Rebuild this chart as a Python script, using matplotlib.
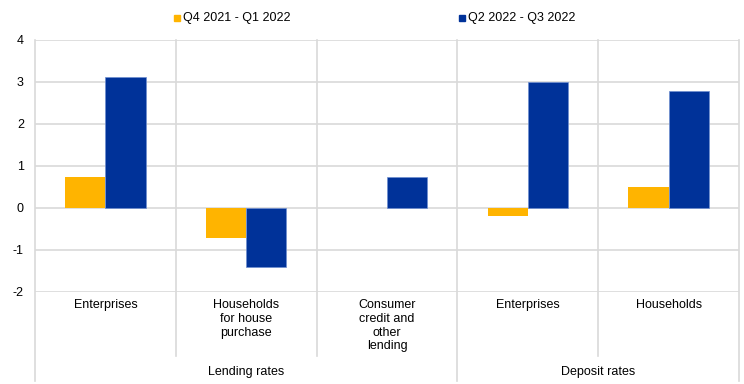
import matplotlib.pyplot as plt
import numpy as np

# Data
categories = ['Enterprises', 'Households\nfor house\npurchase', 'Consumer\ncredit and\nother\nlending',
              'Enterprises', 'Households']
groups = ['Lending rates', 'Deposit rates']
group_spans = [(0, 3), (3, 5)]
q4_q1 = [0.73, -0.71, 0.0, -0.20, 0.51]
q2_q3 = [3.13, -1.40, 0.74, 3.00, 2.78]
series_labels = ['Q4 2021 - Q1 2022', 'Q2 2022 - Q3 2022']
yticks = [-2, -1, 0, 1, 2, 3, 4]

orange = '#FFB400'
blue = '#003299'
grid_c = '#D9D9D9'
fs = 9
plt.rcParams['font.family'] = ['Liberation Sans', 'DejaVu Sans']

W, H = 744, 384
fig = plt.figure(figsize=(W / 100, H / 100), dpi=100)
x0, x1, ytop, ybot = 35, 739, 40, 292
ax = fig.add_axes([x0 / W, 1 - ybot / H, (x1 - x0) / W, (ybot - ytop) / H])

n = len(categories)
x = np.arange(n) + 0.5
bw = 0.285
ax.bar(x - bw / 2, q4_q1, bw, color=orange, zorder=3, linewidth=0)
ax.bar(x + bw / 2, q2_q3, bw, color=blue, zorder=3, edgecolor='#6F8FD0', linewidth=0.5)

ax.set_xlim(0, n)
ax.set_ylim(-2, 4)
ax.set_yticks(yticks)
ax.set_yticklabels([str(v) for v in yticks], fontsize=fs)
ax.tick_params(axis='y', length=0, pad=8)
ax.set_xticks([])
for s in ax.spines.values():
    s.set_visible(False)
for v in yticks:
    ax.axhline(v, color=grid_c, lw=1.2, zorder=1)

# vertical separators extending below the plot
to_ax = lambda py: (ybot - py) / (ybot - ytop)
for b in range(n + 1):
    bottom = 381 if b in (0, 3, n) else 356
    ax.plot([b, b], [1, to_ax(bottom)], transform=ax.get_xaxis_transform(),
            color=grid_c, lw=1.2, clip_on=False, zorder=1)

# category labels
for xi, lab in zip(x, categories):
    ax.text(xi, to_ax(299), lab, transform=ax.get_xaxis_transform(), ha='center', va='top',
            fontsize=fs, linespacing=1.2)
for g, (a, b) in zip(groups, group_spans):
    ax.text((a + b) / 2, to_ax(372), g, transform=ax.get_xaxis_transform(), ha='center',
            va='center', fontsize=fs)

# legend
for px, col, lab in [(174, orange, series_labels[0]), (459, blue, series_labels[1])]:
    fig.patches.append(plt.Rectangle((px / W, 1 - 21 / H), 6 / W, 6 / H,
                                     color=col, transform=fig.transFigure))
    fig.text((px + 9) / W, 1 - 18 / H, lab, fontsize=fs, va='center', ha='left')

fig.savefig('out.png', dpi=100)
